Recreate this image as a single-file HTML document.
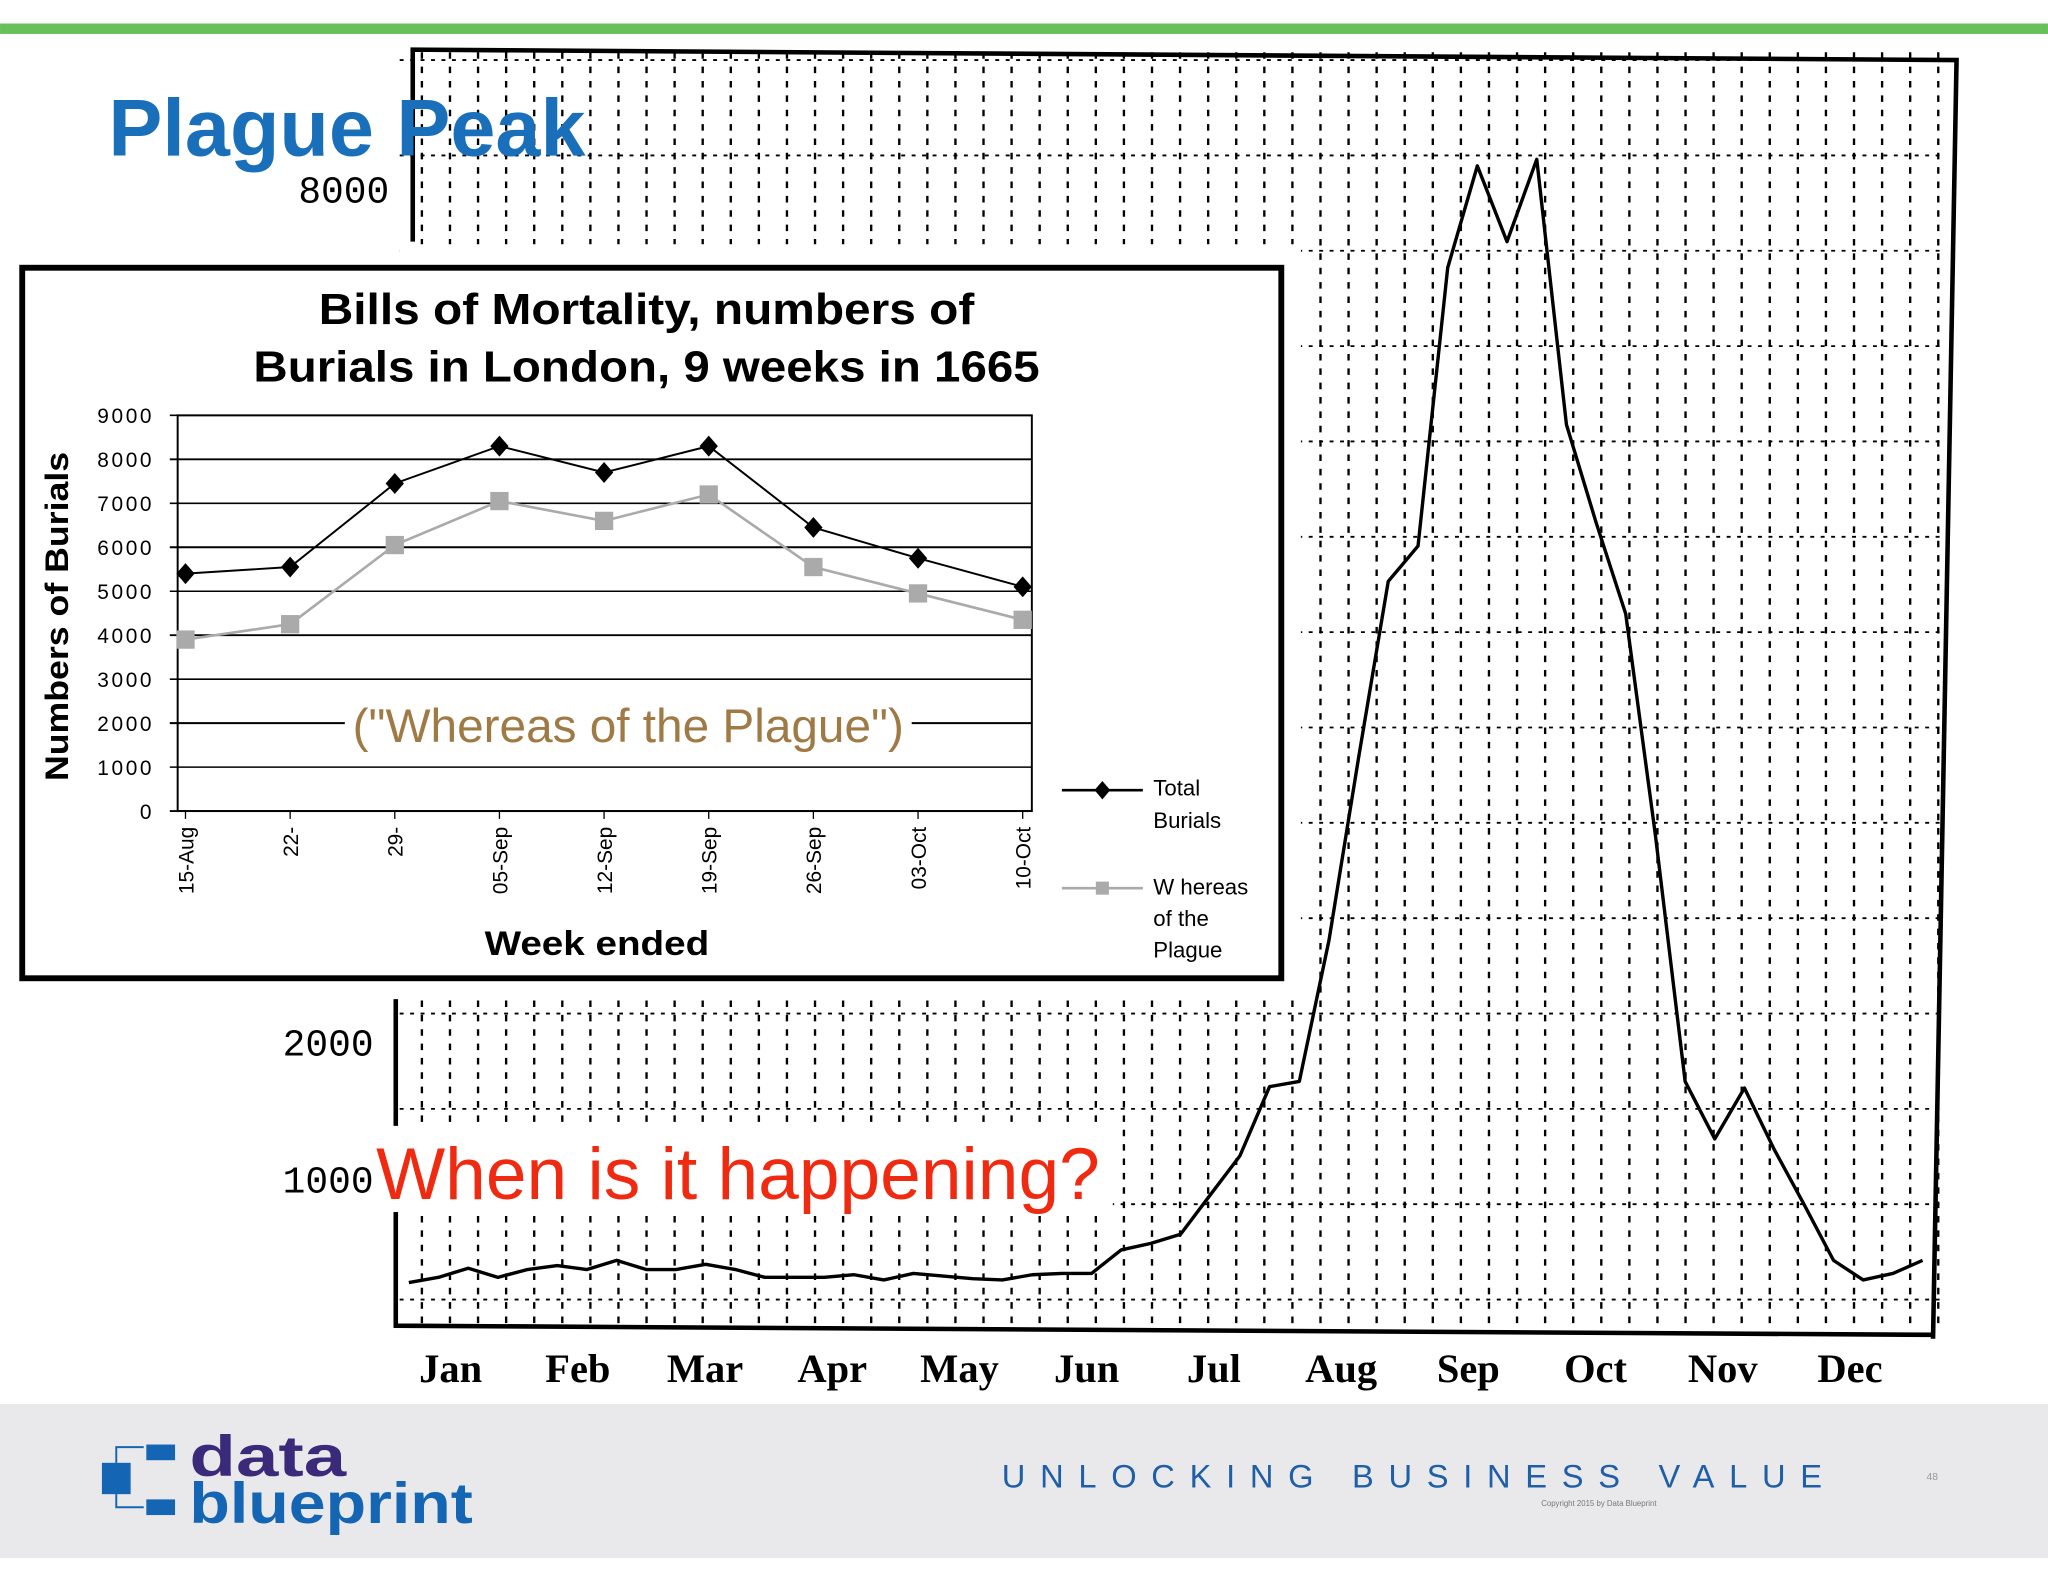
<!DOCTYPE html>
<html><head><meta charset="utf-8"><style>
html,body{margin:0;padding:0;background:#fff}
svg{display:block}
text{font-family:"Liberation Sans",sans-serif}
</style></head><body>
<svg width="2048" height="1582" viewBox="0 0 1568 1211.25" xmlns="http://www.w3.org/2000/svg">
<rect x="0" y="18" width="1568" height="8" fill="#66c159"/>
<g id="grid"></g>
<g stroke="#000" fill="none">
<polyline points="316,185 316,38 1498,46 1480,1025" stroke-width="3.5"/>
<polyline points="303,765 303,1015 1480,1022" stroke-width="3.5"/>
</g>
<rect x="306" y="187" width="690" height="578" fill="#fff"/>
<polyline id="mainline" fill="none" stroke="#000" stroke-width="2.6" stroke-linejoin="round"/>
<g id="mainlabels" font-size="29" fill="#000"></g>
<text x="83" y="119" font-size="62" font-weight="bold" fill="#1a6fba">Plague Peak</text>
<rect x="286" y="862" width="566" height="66" fill="#fff"/>
<text x="288" y="918" font-size="56" fill="#f02a10">When is it happening?</text>
<rect x="17" y="205" width="964" height="544" fill="#fff" stroke="#000" stroke-width="4.5"/>
<text x="495" y="248" text-anchor="middle" font-size="33" font-weight="bold" textLength="502" lengthAdjust="spacingAndGlyphs">Bills of Mortality, numbers of</text>
<text x="495" y="292" text-anchor="middle" font-size="33" font-weight="bold" textLength="602" lengthAdjust="spacingAndGlyphs">Burials in London, 9 weeks in 1665</text>
<g id="inset"></g>
<text transform="translate(52,472) rotate(-90)" text-anchor="middle" font-size="25" font-weight="bold" textLength="252" lengthAdjust="spacingAndGlyphs">Numbers of Burials</text>
<text x="457" y="731" text-anchor="middle" font-size="26" font-weight="bold" textLength="172" lengthAdjust="spacingAndGlyphs">Week ended</text>
<g font-size="17">
<line x1="813" y1="605" x2="875" y2="605" stroke="#000" stroke-width="2"/>
<path d="M844,598 L850,605 L844,612 L838,605Z" fill="#000"/>
<text x="883" y="609">Total</text><text x="883" y="634">Burials</text>
<line x1="813" y1="680" x2="875" y2="680" stroke="#aaa" stroke-width="2"/>
<rect x="839" y="675" width="10" height="10" fill="#aaa"/>
<text x="883" y="685">W hereas</text><text x="883" y="709">of the</text><text x="883" y="733">Plague</text>
</g>
<rect x="0" y="1075" width="1568" height="118" fill="#e9e9eb"/>
<g>
<rect x="112" y="1106" width="22" height="12" fill="#1565b5"/>
<rect x="78" y="1120" width="22" height="24" fill="#1565b5"/>
<rect x="112" y="1148" width="22" height="12" fill="#1565b5"/>
<path d="M89,1120 V1108 H110 M89,1144 V1154 H110" stroke="#1565b5" stroke-width="1.5" fill="none"/>
<text x="145" y="1130" font-size="44" font-weight="bold" fill="#3b2a7a" textLength="120" lengthAdjust="spacingAndGlyphs">data</text>
<text x="145" y="1166" font-size="44" font-weight="bold" fill="#1565b5" textLength="217" lengthAdjust="spacingAndGlyphs">blueprint</text>
</g>
<text x="767" y="1139" font-size="25" fill="#1f5fa8" textLength="628" lengthAdjust="spacing">UNLOCKING BUSINESS VALUE</text>
<text x="1180" y="1153" font-size="6" fill="#777">Copyright    2015     by Data Blueprint</text>
<text x="1475" y="1133" font-size="8" fill="#999">48</text>
</svg>
<script>
const weeklyValues=[241,279,344,279,334,362,334,399,334,334,371,334,279,279,279,297,260,306,288,269,260,297,306,306,474,520,585,864,1142,1634,1671,2674,3974,5227,5478,7456,8180,7642,8227,6342,5645,4995,3417,1671,1263,1625,1188,799,399,260,306,399];
const monthLabels=["Jan","Feb","Mar","Apr","May","Jun","Jul","Aug","Sep","Oct","Nov","Dec"];
const mainTickValues=[8000,2000,1000];
const weekLabels=["15-Aug","22-","29-","05-Sep","12-Sep","19-Sep","26-Sep","03-Oct","10-Oct"];
const totalBurials=[5400,5550,7450,8300,7700,8300,6450,5750,5100];
const plagueBurials=[3900,4250,6050,7050,6600,7200,5550,4950,4350];
const insetTicks=[0,1000,2000,3000,4000,5000,6000,7000,8000,9000];
const NS="http://www.w3.org/2000/svg";
function mk(t,a,p){const e=document.createElementNS(NS,t);for(const k in a)e.setAttribute(k,a[k]);p.appendChild(e);return e;}
const g=document.getElementById('grid');
for(let x=323;x<1490;x+=21.5){const l=mk('line',{x1:x,y1:40,x2:x,y2:1015,stroke:'#000','stroke-width':1.8,'stroke-dasharray':'5 6'},g);}
for(let y=119-73;y<1010;y+=73){const l=mk('line',{x1:306,y1:y,x2:1490,y2:y,stroke:'#000','stroke-width':1.4,'stroke-dasharray':'3 5'},g);}
const mx=i=>313+i*(1472-313)/(weeklyValues.length-1);
const my=v=>1008-v*0.1077;
document.getElementById('mainline').setAttribute('points',weeklyValues.map((v,i)=>mx(i).toFixed(1)+','+my(v).toFixed(1)).join(' '));
const ml=document.getElementById('mainlabels');
monthLabels.forEach((m,i)=>{const t=mk('text',{x:345+i*97.4,y:1058,'text-anchor':'middle','font-weight':'bold','font-size':31,style:'font-family:"Liberation Serif",serif'},ml);t.textContent=m;});
const mty={8000:155,2000:808,1000:913};const mtx={8000:298,2000:286,1000:286};
mainTickValues.forEach(v=>{const t=mk('text',{x:mtx[v],y:mty[v],'text-anchor':'end',style:'font-family:"Liberation Mono",monospace'},ml);t.textContent=v;});
const ins=document.getElementById('inset');
const L=136,R=790,T=318,B=621;
const ix=i=>142+i*(783-142)/(weekLabels.length-1);
const iy=v=>B-(v/9000)*(B-T);
insetTicks.forEach(v=>{
 const l=mk('line',{x1:130,y1:iy(v),x2:R,y2:iy(v),stroke:'#000','stroke-width':v%2000==0||v==0?1.5:1.2},ins);
 const t=mk('text',{x:118,y:iy(v)+6,'text-anchor':'end','font-size':16,'letter-spacing':'2'},ins);t.textContent=v;
});
const bx=mk('rect',{x:L,y:T,width:R-L,height:B-T,fill:'none',stroke:'#000','stroke-width':1.5},ins);
const wm=mk('rect',{x:264,y:535,width:434,height:42,fill:'#fff'},ins);
const wt=mk('text',{x:481,y:568,'text-anchor':'middle','font-size':36,fill:'#a07a44',textLength:422,lengthAdjust:'spacingAndGlyphs'},ins);wt.textContent='("Whereas of the Plague")';
weekLabels.forEach((w,i)=>{
 const tk=mk('line',{x1:ix(i),y1:B,x2:ix(i),y2:B+6,stroke:'#000'},ins);
 const t=mk('text',{transform:`translate(${ix(i)+6},${B+12}) rotate(-90)`,'text-anchor':'end','font-size':16},ins);t.textContent=w;
});
const pp=mk('polyline',{points:plagueBurials.map((v,i)=>ix(i)+','+iy(v)).join(' '),fill:'none',stroke:'#aaa','stroke-width':2},ins);
const tp=mk('polyline',{points:totalBurials.map((v,i)=>ix(i)+','+iy(v)).join(' '),fill:'none',stroke:'#000','stroke-width':1.5},ins);
plagueBurials.forEach((v,i)=>{const r=mk('rect',{x:ix(i)-7,y:iy(v)-7,width:14,height:14,fill:'#aaa'},ins);});
totalBurials.forEach((v,i)=>{const x=ix(i),y=iy(v);const p=mk('path',{d:`M${x},${y-8} L${x+7},${y} L${x},${y+8} L${x-7},${y}Z`,fill:'#000'},ins);});
</script>
</body></html>
